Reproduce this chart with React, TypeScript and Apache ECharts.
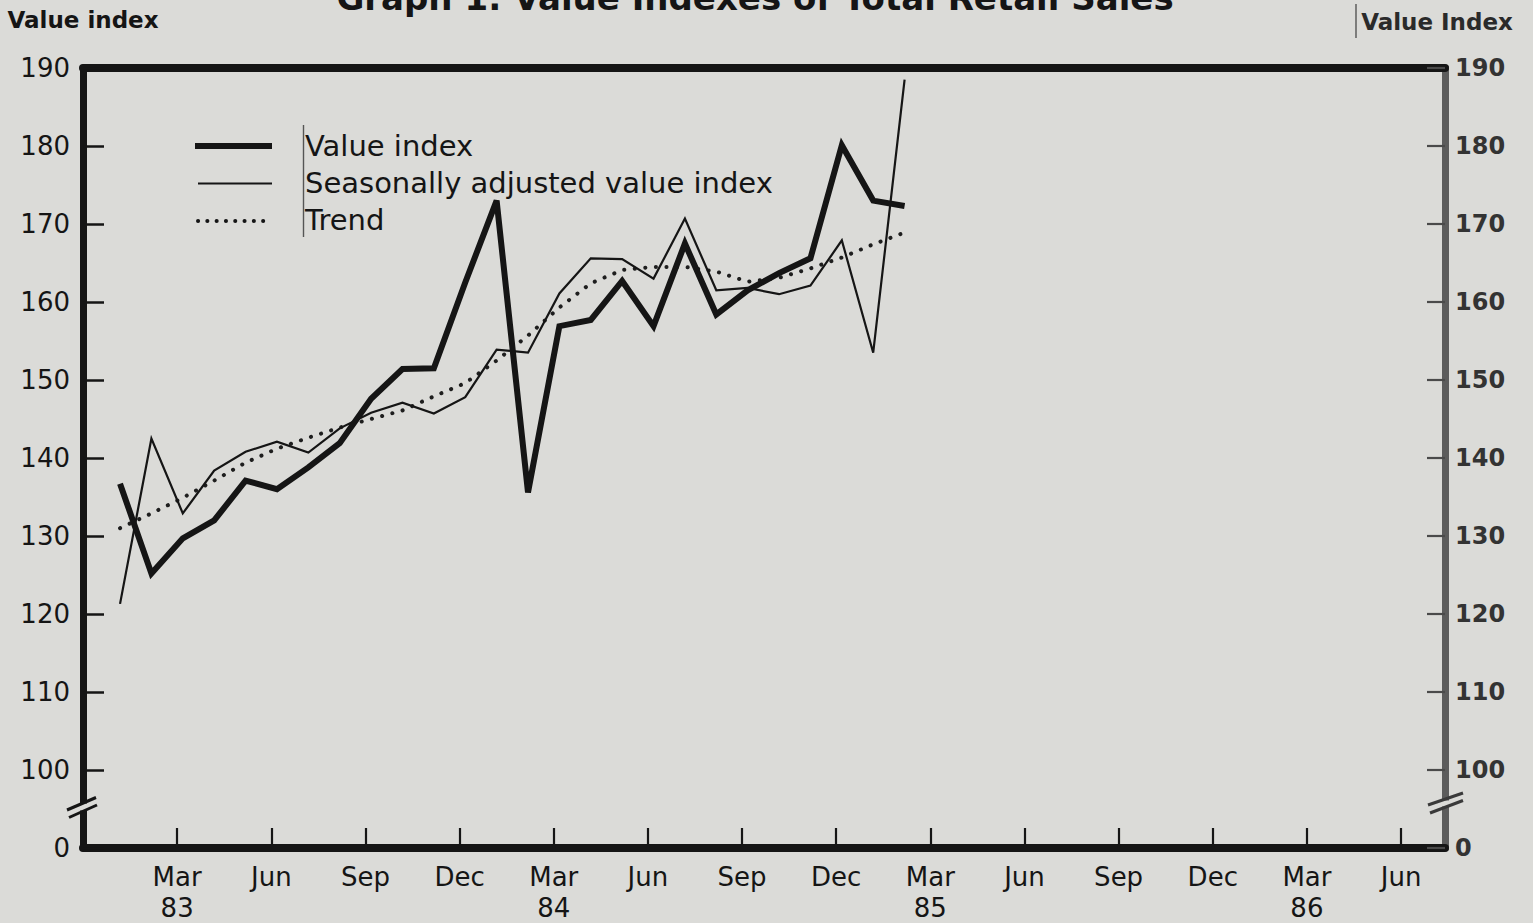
import React, { useEffect, useRef } from 'react';
import * as echarts from 'echarts';

// Months plotted: Jan 83 .. Feb 85 (x position = months after Dec 82)
const monthLabels = [
  'Jan 83', 'Feb 83', 'Mar 83', 'Apr 83', 'May 83', 'Jun 83', 'Jul 83', 'Aug 83', 'Sep 83', 'Oct 83', 'Nov 83', 'Dec 83',
  'Jan 84', 'Feb 84', 'Mar 84', 'Apr 84', 'May 84', 'Jun 84', 'Jul 84', 'Aug 84', 'Sep 84', 'Oct 84', 'Nov 84', 'Dec 84',
  'Jan 85', 'Feb 85',
];

const valueIndex = [
  136.7, 125.2, 129.7, 132.0, 137.1, 136.0, 138.8, 141.9, 147.6, 151.4, 151.5, 162.5,
  173.0, 135.6, 156.9, 157.7, 162.7, 156.9, 167.5, 158.4, 161.5, 163.7, 165.6, 180.1,
  173.0, 172.3,
];

const seasonallyAdjusted = [
  121.3, 142.5, 132.9, 138.4, 140.8, 142.1, 140.7, 143.8, 145.8, 147.1, 145.7, 147.8,
  153.9, 153.5, 161.1, 165.6, 165.5, 163.0, 170.7, 161.5, 161.8, 161.0, 162.1, 167.9,
  153.5, 188.5,
];

const trend = [
  131.0, 132.9, 134.9, 137.1, 139.4, 141.2, 142.6, 143.9, 145.0, 146.1, 147.9, 149.6,
  152.5, 155.7, 159.3, 162.4, 164.1, 164.5, 164.5, 163.9, 162.6, 163.1, 164.3, 165.7,
  167.4, 168.9,
];

const seriesNames = ['Value index', 'Seasonally adjusted value index', 'Trend'];

// x tick labels every quarter (value = months after Dec 82)
const quarterNames: Record<number, string> = { 0: 'Dec', 3: 'Mar', 6: 'Jun', 9: 'Sep' };
const firstYear = 83;
const lastLabelledMonth = 42; // Jun 86
const axisMin = 0;
const axisMax = 43.4;
const plotShift = 0.18; // original prints points slightly right of the month ticks
const yMin = 90; // displayed as 0 (axis break)
const yMax = 190;

const BG = '#dbdbd8';
const INK = '#151515';
const FONT = '"DejaVu Sans", "Liberation Sans", sans-serif';

const toPairs = (arr: number[]) => arr.map((v, i) => [i + 1, v]);

export default function App() {
  const ref = useRef<HTMLDivElement>(null);

  useEffect(() => {
    if (!ref.current) return;
    const chart = echarts.init(ref.current, undefined, { renderer: 'svg' });

    const xFormatter = (v: number) => {
      if (v <= 0 || v > lastLabelledMonth + 0.5) return '';
      const m = ((Math.round(v) % 12) + 12) % 12;
      const name = quarterNames[m];
      if (!name) return '';
      if (m === 3) return name + '\n' + (firstYear + Math.floor(v / 12));
      return name;
    };
    const yFormatter = (v: number) => (v === yMin ? '0' : String(v));

    chart.setOption({
      animation: false,
      backgroundColor: BG,
      grid: { left: 83, right: 88, top: 68, bottom: 75, containLabel: false },
      legend: {
        orient: 'vertical',
        left: 195,
        top: 126,
        itemWidth: 77,
        itemHeight: 12,
        itemGap: 8,
        selectedMode: false,
        itemStyle: { opacity: 0 },
        lineStyle: { opacity: 0 },
        textStyle: { fontFamily: FONT, fontSize: 29, color: INK, padding: [0, 0, 0, 22] },
        data: seriesNames,
      },
      xAxis: [
        {
          type: 'value',
          position: 'bottom',
          min: axisMin,
          max: axisMax,
          interval: 3,
          splitLine: { show: false },
          axisLine: { show: true, onZero: false, lineStyle: { color: INK, width: 8 } },
          axisTick: { show: true, inside: true, length: 20, lineStyle: { color: INK, width: 2.2 } },
          axisLabel: {
            formatter: xFormatter,
            fontFamily: FONT,
            fontSize: 26,
            lineHeight: 31,
            color: INK,
            margin: 13,
            showMinLabel: false,
            showMaxLabel: false,
          },
        },
        {
          type: 'value',
          position: 'top',
          min: axisMin - plotShift,
          max: axisMax - plotShift,
          splitLine: { show: false },
          axisLine: { show: true, onZero: false, lineStyle: { color: INK, width: 8 } },
          axisTick: { show: false },
          axisLabel: { show: false },
        },
      ],
      yAxis: [
        {
          type: 'value',
          position: 'left',
          min: yMin,
          max: yMax,
          interval: 10,
          name: 'Value index',
          nameLocation: 'end',
          nameGap: 48,
          nameTextStyle: {
            fontFamily: FONT, fontSize: 23, fontWeight: 'bold', color: INK,
            align: 'center', verticalAlign: 'middle',
          },
          splitLine: { show: false },
          axisLine: { show: true, onZero: false, lineStyle: { color: INK, width: 7 } },
          axisTick: { show: true, inside: true, length: 21, lineStyle: { color: INK, width: 2.5 } },
          axisLabel: { formatter: yFormatter, fontFamily: FONT, fontSize: 26, color: INK, margin: 13 },
        },
        {
          type: 'value',
          position: 'right',
          min: yMin,
          max: yMax,
          interval: 10,
          name: 'Value Index',
          nameLocation: 'end',
          nameGap: 46,
          nameTextStyle: {
            fontFamily: FONT, fontSize: 23, fontWeight: 'bold', color: '#2a2a2a',
            align: 'center', verticalAlign: 'middle', padding: [0, 16, 0, 0],
          },
          splitLine: { show: false },
          axisLine: { show: true, onZero: false, lineStyle: { color: '#5c5c5c', width: 7 } },
          axisTick: { show: true, inside: true, length: 18, lineStyle: { color: '#4a4a4a', width: 2.2 } },
          axisLabel: {
            formatter: yFormatter, fontFamily: FONT, fontSize: 24, fontWeight: 'bold',
            color: '#333333', margin: 10,
          },
        },
      ],
      series: [
        {
          name: seriesNames[0],
          type: 'line',
          xAxisIndex: 1,
          data: toPairs(valueIndex),
          symbol: 'none',
          showSymbol: false,
          lineStyle: { color: INK, width: 6, join: 'miter', miterLimit: 10 },
          itemStyle: { color: INK },
          z: 5,
        },
        {
          name: seriesNames[1],
          type: 'line',
          xAxisIndex: 1,
          data: toPairs(seasonallyAdjusted),
          symbol: 'none',
          showSymbol: false,
          lineStyle: { color: INK, width: 2.2, join: 'miter', miterLimit: 10 },
          itemStyle: { color: INK },
          z: 4,
        },
        {
          name: seriesNames[2],
          type: 'line',
          xAxisIndex: 1,
          data: toPairs(trend),
          symbol: 'none',
          showSymbol: false,
          lineStyle: { color: '#1e1e1e', width: 4, type: [0.1, 10.5], cap: 'round' },
          itemStyle: { color: '#1e1e1e' },
          z: 3,
        },
      ],
      graphic: [
        {
          type: 'text',
          x: 755,
          y: -2,
          z: 50,
          style: {
            text: 'Graph 1: Value Indexes of Total Retail Sales',
            align: 'center',
            verticalAlign: 'middle',
            fontFamily: FONT,
            fontSize: 34,
            fontWeight: 'bold',
            fill: INK,
          },
        },
        // legend samples
        { type: 'line', z: 50, shape: { x1: 195, y1: 146, x2: 272, y2: 146 }, style: { stroke: INK, lineWidth: 6 } },
        { type: 'line', z: 50, shape: { x1: 198, y1: 183.5, x2: 272, y2: 183.5 }, style: { stroke: INK, lineWidth: 2.2 } },
        {
          type: 'line', z: 50, shape: { x1: 198, y1: 221, x2: 272, y2: 221 },
          style: { stroke: INK, lineWidth: 4, lineDash: [0.1, 9.2], lineCap: 'round' },
        },
        // faint vertical rules from the original print
        { type: 'line', z: 50, shape: { x1: 303.5, y1: 125, x2: 303.5, y2: 237 }, style: { stroke: '#555', lineWidth: 1.4 } },
        { type: 'line', z: 50, shape: { x1: 1356, y1: 4, x2: 1356, y2: 38 }, style: { stroke: '#555', lineWidth: 1.4 } },
        // left axis break
        { type: 'rect', z: 60, shape: { x: 78, y: 803.5, width: 11, height: 7 }, style: { fill: BG } },
        { type: 'line', z: 61, shape: { x1: 67, y1: 810, x2: 96, y2: 797.5 }, style: { stroke: INK, lineWidth: 3 } },
        { type: 'line', z: 61, shape: { x1: 69, y1: 817.5, x2: 97, y2: 805 }, style: { stroke: INK, lineWidth: 3 } },
        // right axis break
        { type: 'rect', z: 60, shape: { x: 1440, y: 800.5, width: 11, height: 6 }, style: { fill: BG } },
        { type: 'line', z: 61, shape: { x1: 1428, y1: 805, x2: 1463, y2: 793 }, style: { stroke: '#3a3a3a', lineWidth: 3 } },
        { type: 'line', z: 61, shape: { x1: 1430, y1: 813, x2: 1463, y2: 800.5 }, style: { stroke: '#3a3a3a', lineWidth: 3 } },
      ],
    });

    return () => chart.dispose();
  }, []);

  return (
    <div
      ref={ref}
      style={{ position: 'fixed', left: 0, top: 0, width: 1533, height: 923, background: BG }}
    />
  );
}
